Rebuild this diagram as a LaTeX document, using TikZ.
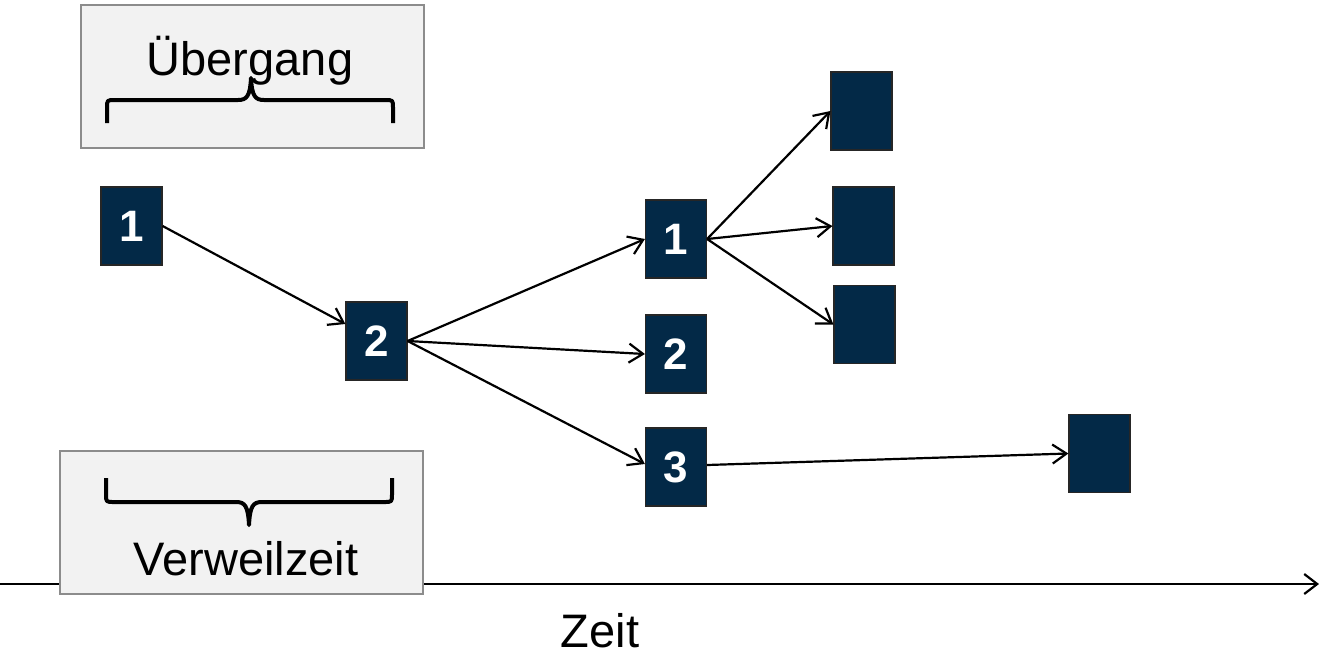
\documentclass[tikz,border=0pt]{standalone}
\usepackage{fontspec}
\setmainfont{Liberation Sans}
\usetikzlibrary{arrows.meta}
\definecolor{navy}{RGB}{3,41,71}
\definecolor{panelbg}{RGB}{242,242,242}
\definecolor{panelline}{RGB}{140,140,140}
\begin{document}
\begin{tikzpicture}[x=1pt,y=-1pt,
  state/.style={draw=black!85, line width=1.2pt, fill=navy, minimum width=61pt,
    minimum height=78pt, inner sep=0pt, text=white,
    font=\fontsize{44}{44}\selectfont\bfseries},
  panel/.style={draw=panelline, line width=1.5pt, fill=panelbg, inner sep=0pt},
  flow/.style={line width=2.2pt, -{Straight Barb[length=14pt,width=19pt]}},
  caption/.style={font=\fontsize{47}{47}\selectfont, anchor=base, inner sep=0pt,
    text depth=0pt},
  brace/.style={line width=4pt, line join=round}]
\useasboundingbox (0,0) rectangle (1319,657);

% time axis
\coordinate (t0) at (0,584);
\coordinate (t1) at (1319,584);
\draw[line width=2.2pt, -{Straight Barb[length=13pt,width=20pt]}] (t0) -- (t1);
\node[caption] (zeit) at (600,647) {Zeit};

% transition panel
\node[panel, minimum width=343pt, minimum height=143pt] (ubox) at (252.5,76.5) {};
\node[caption] (ulabel) at (250,75) {Übergang};
\draw[brace] (107,123) -- (107,108) .. controls (107,100) .. (115,100) -- (238,100)
  .. controls (247,100) and (250,96) .. (251,78)
  .. controls (252,96) and (255,100) .. (264,100) -- (385,100)
  .. controls (393,100) .. (393,108) -- (393,123);

% dwell time panel
\node[panel, minimum width=363pt, minimum height=143pt] (vbox) at (241.5,522.5) {};
\node[caption] (vlabel) at (246,575) {Verweilzeit};
\draw[brace] (106,478) -- (106,494) .. controls (106,502) .. (114,502) -- (236,502)
  .. controls (245,502) and (248,506) .. (249,525)
  .. controls (250,506) and (253,502) .. (262,502) -- (384,502)
  .. controls (392,502) .. (392,494) -- (392,478);

% states
\node[state] (a1) at (131.5,226) {1};
\node[state] (a2) at (376.5,341) {2};
\node[state] (b1) at (676,239) {1};
\node[state] (b2) at (676,354) {2};
\node[state] (b3) at (676,467) {3};
\node[state] (c1) at (861.5,111) {};
\node[state] (c2) at (863.5,226) {};
\node[state] (c3) at (864.5,324.5) {};
\node[state] (d)  at (1099.5,453.5) {};

% transitions
\draw[flow] (a1.east) -- ([yshift=17pt]a2.west);
\draw[flow] (a2.east) -- (b1.west);
\draw[flow] (a2.east) -- (b2.west);
\draw[flow] (a2.east) -- ([yshift=3pt]b3.west);
\draw[flow] (b1.east) -- (c1.west);
\draw[flow] (b1.east) -- (c2.west);
\draw[flow] (b1.east) -- (c3.west);
\draw[flow] ([yshift=2pt]b3.east) -- (d.west);
\end{tikzpicture}
\end{document}
